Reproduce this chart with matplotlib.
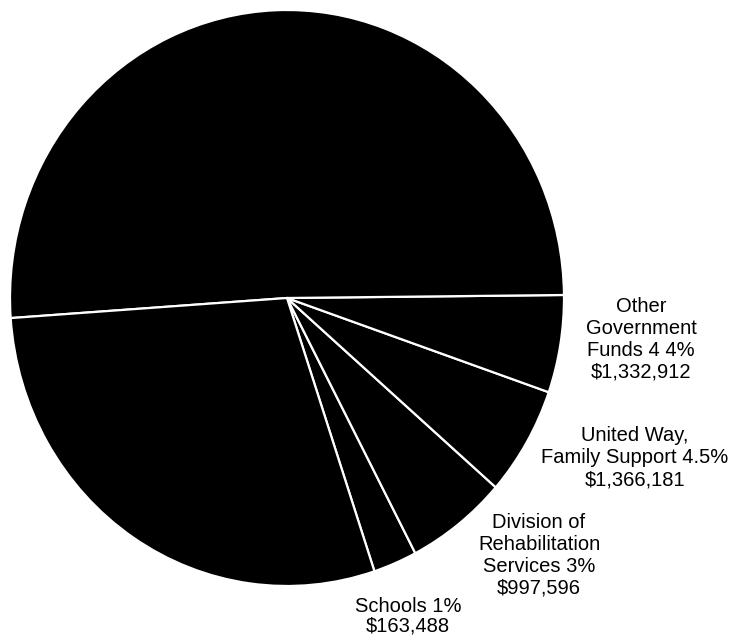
import matplotlib
matplotlib.use("Agg")
import matplotlib.pyplot as plt

# slice sizes as drawn in the picture (degrees of the circle), counterclockwise from Schools
slices = ["Schools", "Division of Rehabilitation Services", "United Way, Family Support",
          "Other Government Funds", "(top, unlabeled)", "(lower left, unlabeled)"]
drawn_deg = [9.2, 21.3, 22.0, 19.7, 183.4, 104.4]
start_deg = -71.6

# label texts as printed
label_text = [
    "Schools 1%\n$163,488",
    "Division of\nRehabilitation\nServices 3%\n$997,596",
    "United Way,\nFamily Support 4.5%\n$1,366,181",
    "Other\nGovernment\nFunds 4 4%\n$1,332,912",
]
# label centres in pixels (x from left, y of first line from top)
label_xy = [(408, 606), (539, 522), (635, 435), (641, 306)]

W, H = 732, 638
cx, cy = 287, 298      # pie centre in pixels
rx, ry = 277, 288      # the scanned pie is a little taller than wide

fig = plt.figure(figsize=(W / 100, H / 100), dpi=100)
ax = fig.add_axes([0, 0, 1, 1])

ax.pie(drawn_deg, startangle=start_deg, counterclock=True, colors=["black"] * len(drawn_deg),
       wedgeprops=dict(edgecolor="white", linewidth=1.6), radius=1.0)
ax.set_aspect("auto")
ax.set_xlim(-cx / rx, (W - cx) / rx)
ax.set_ylim(-(H - cy) / ry, cy / ry)
ax.axis("off")

for i, (txt, (x, y)) in enumerate(zip(label_text, label_xy)):
    ax.text(x / W, 1 - (y - 9) / H, txt, transform=ax.transAxes, ha="center", va="top",
            multialignment="center", fontsize=14.5, family="Liberation Sans",
            linespacing=1.05 if i == 0 else 1.2)

fig.savefig("out.png", dpi=100)
